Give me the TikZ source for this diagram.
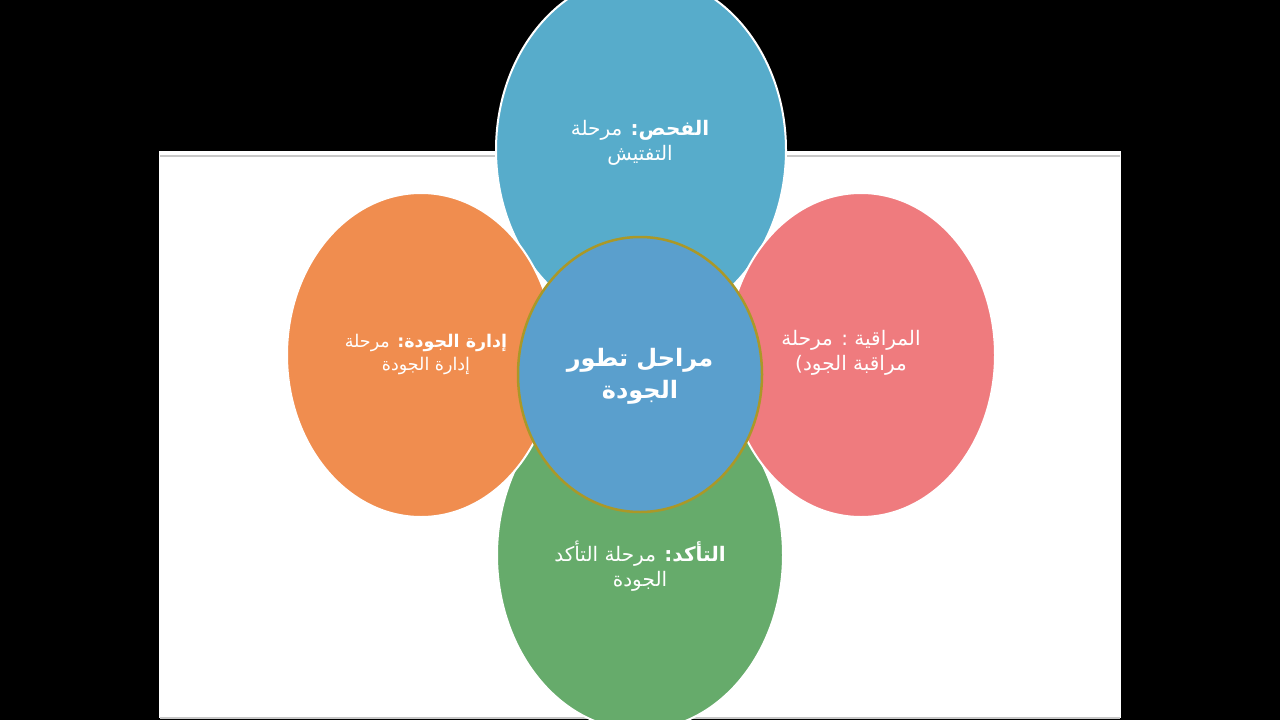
\documentclass[tikz,border=0pt]{standalone}
\usepackage{fontspec}
\usetikzlibrary{shapes.geometric}
\newfontfamily\arabicfont[Script=Arabic]{DejaVu Sans}
\TeXXeTstate=1
\definecolor{topblue}{RGB}{87,172,203}
\definecolor{midblue}{RGB}{90,159,205}
\definecolor{orangec}{RGB}{240,141,79}
\definecolor{pinkc}{RGB}{239,123,126}
\definecolor{greenc}{RGB}{102,171,107}
\definecolor{olivec}{RGB}{170,152,40}
\definecolor{edgegray}{RGB}{200,200,200}
\tikzset{
  petal/.style={ellipse, draw=white, line width=2pt, inner sep=0pt},
  hub/.style={ellipse, draw=olivec, line width=2.5pt, fill=midblue, inner sep=0pt,
     minimum width=244pt, minimum height=275pt},
  lbl/.style={text=white, align=center, font=\arabicfont\fontsize{20}{25}\selectfont, inner sep=0pt},
  lbls/.style={text=white, align=center, font=\arabicfont\fontsize{17.5}{23}\selectfont, inner sep=0pt},
  hublbl/.style={text=white, align=center, font=\arabicfont\bfseries\fontsize{24}{32}\selectfont, inner sep=0pt}
}
\begin{document}
\begin{tikzpicture}[x=1pt,y=-1pt]
\useasboundingbox (0,0) rectangle (1280,720);
\fill[black] (0,0) rectangle (1280,720);
\fill[white] (159,151) rectangle (1121,718);
\draw[edgegray, line width=2pt] (160,156) -- (1120,156);
\draw[edgegray, line width=1.5pt] (160,718) -- (1120,718);
% petals
\node[petal, fill=topblue, minimum width=290pt, minimum height=350pt] (top) at (641,150) {};
\node[petal, fill=greenc, minimum width=286pt, minimum height=350pt] (bottom) at (640,555) {};
\node[petal, fill=pinkc, minimum width=268pt, minimum height=324pt] (right) at (861,355) {};
\node[petal, fill=orangec, minimum width=268pt, minimum height=324pt] (left) at (421,355) {};
\node[hub] (hub) at (640,374.5) {};
% labels
\node[lbl] (toplbl) at (640,143) {\beginR{\bfseries الفحص:} مرحلة\endR\\\beginR التفتيش\endR};
\node[lbls] (leftlbl) at (426,354) {\beginR{\bfseries إدارة الجودة:} مرحلة\endR\\\beginR إدارة الجودة\endR};
\node[lbl] (rightlbl) at (851,353) {\beginR المراقية : مرحلة\endR\\\beginR مراقبة الجود)\endR};
\node[lbl] (bottomlbl) at (640,566) {\beginR{\bfseries التأكد:} مرحلة التأكد\endR\\\beginR الجودة\endR};
\node[hublbl] (hublbl) at (640,376) {\beginR مراحل تطور\endR\\\beginR الجودة\endR};
\end{tikzpicture}
\end{document}
